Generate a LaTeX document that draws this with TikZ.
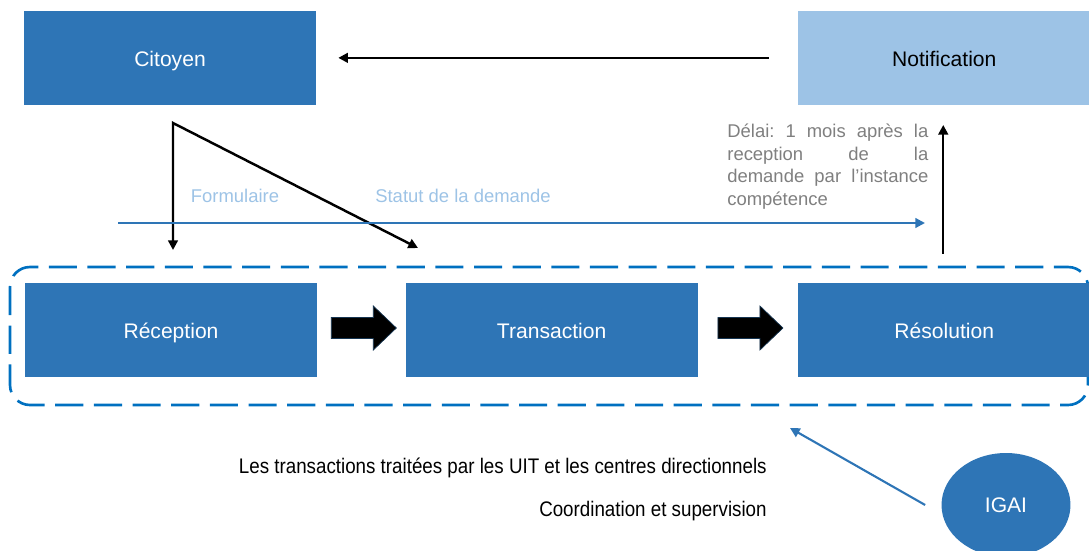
\documentclass[tikz,border=0pt]{standalone}
\usepackage{fontspec}
\setmainfont{Liberation Sans}
\newfontfamily\narrowfont[FakeStretch=0.89]{Liberation Sans}
\usetikzlibrary{arrows.meta, positioning, shapes.geometric, calc}
\definecolor{boxblue}{HTML}{2E75B6}
\definecolor{paleblue}{HTML}{9DC3E6}
\definecolor{dashblue}{HTML}{0070C0}
\definecolor{notegray}{HTML}{7F7F7F}

\begin{document}
\begin{tikzpicture}[x=0.02cm, y=-0.02cm, >={Triangle[length=5.5pt, width=5.5pt]},
  box/.style={rectangle, fill=boxblue, text=white, inner sep=0pt, minimum width=5.84cm, minimum height=1.87cm, text height=10pt, text depth=0pt, font=\fontsize{12}{14}\selectfont},
  flow/.style={->, line width=1.4pt, black},
  bluflow/.style={->, line width=1.2pt, boxblue},
  label/.style={inner sep=0pt, font=\fontsize{10.5}{12.8}\selectfont},
  bigarrow/.pic={\filldraw[fill=black, draw=black!55!boxblue, line width=0.4pt] (0,-10.5) -- (42,-10.5) -- (42,-22) -- (65,0) -- (42,22) -- (42,10.5) -- (0,10.5) -- cycle;}]

\useasboundingbox (0,0) rectangle (1089,551);

% Dashed frame round the processing steps
\draw[dashblue, line width=1.5pt, dash pattern=on 16pt off 6pt, rounded corners=0.4cm] (10,267) rectangle (1088,405);

% Processing steps
\node[box] (recep) at (171,330) {Réception};
\node[box, right=1.76cm of recep] (trans) {Transaction};
\node[box, right=2cm of trans] (resol) {Résolution};

% Top row
\node[box, above=3.56cm of recep, xshift=-0.02cm] (citoyen) {Citoyen};
\node[box, above=3.56cm of resol, fill=paleblue, text=black] (notif) {Notification};

% Block arrows between steps
\pic at ($(recep.east)+(14,-2)$) {bigarrow};
\pic at ($(trans.east)+(20,-2)$) {bigarrow};

% Citizen request
\coordinate (corner) at (173,123);
\coordinate (formtip) at (173,250);
\coordinate (transtip) at (418,248);
\draw[flow, <->] (formtip) -- (corner) -- (transtip);

\node[label, text=paleblue] (form) at (235,196) {Formulaire};
\node[label, text=paleblue] (statut) at (463,196) {Statut de la demande};

% Status line
\coordinate (statstart) at (118,223);
\coordinate (statend) at (925,223);
\draw[bluflow] (statstart) -- (statend);

% Notification back to the citizen
\draw[flow] ($(notif.west)+(-29,0)$) -- ($(citoyen.east)+(22,0)$);
\draw[flow] ($(resol.north)+(-1,-29)$) -- ($(notif.south)+(-1,20)$);

\node[label, text=notegray, anchor=north west, text width=4.02cm, align=justify] (delai) at (727,124)
  {\frenchspacing Délai: 1 mois après la\linebreak reception de la\linebreak demande par l’instance\linebreak compétence};

% Supervision
\node[ellipse, fill=boxblue, text=white, inner sep=0pt, minimum width=2.58cm, minimum height=2.08cm, font=\fontsize{12}{14}\selectfont] (igai) at (1006,505) {IGAI};
\coordinate (igaitip) at (790,428);
\draw[bluflow] ($(igai.west)+(-16,0)$) -- (igaitip);

\node[anchor=east, inner sep=0pt, font=\narrowfont\fontsize{12}{14}\selectfont] (trait) at (767,468) {Les transactions traitées par les UIT et les centres directionnels};
\node[anchor=east, inner sep=0pt, font=\narrowfont\fontsize{12}{14}\selectfont] (coord) at (767,511) {Coordination et supervision};

\end{tikzpicture}
\end{document}
